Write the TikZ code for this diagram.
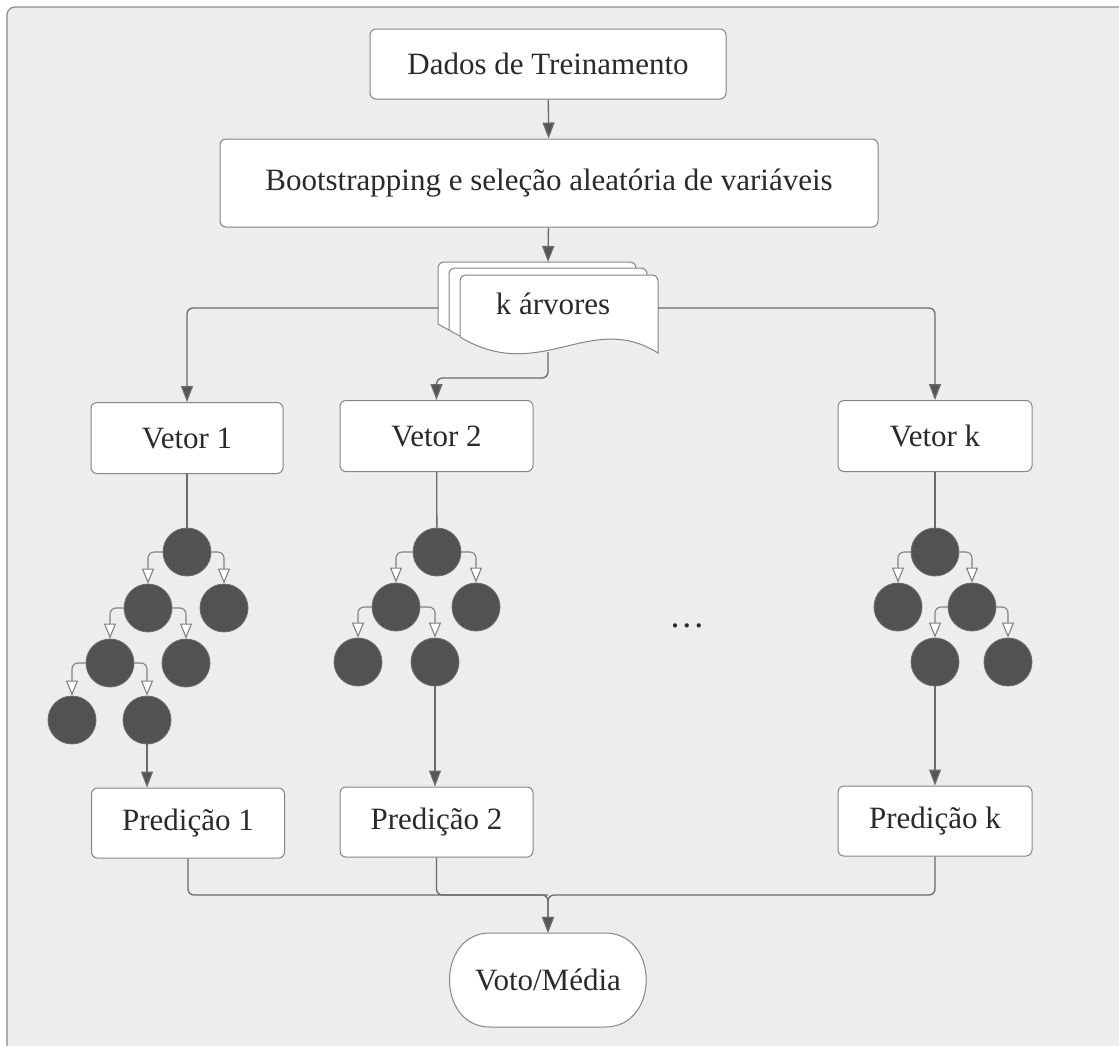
\documentclass[tikz,border=0pt]{standalone}
\usepackage{fontspec}
\setmainfont{Liberation Serif}
\usetikzlibrary{arrows.meta,calc}
\definecolor{panelbg}{HTML}{EDEDED}
\definecolor{panelline}{HTML}{8A8A8A}
\definecolor{boxline}{HTML}{858585}
\definecolor{linegray}{HTML}{6A6A6A}
\definecolor{tipgray}{HTML}{555555}
\definecolor{nodegray}{HTML}{525252}
\definecolor{txtgray}{HTML}{2A2A2A}
\tikzset{
  box/.style={draw=boxline, fill=white, line width=1pt, rounded corners=6pt,
    font=\fontsize{31}{36}\selectfont, text=txtgray, inner sep=0pt},
  lbl/.style={font=\fontsize{31}{36}\selectfont, text=txtgray, inner sep=0pt},
  conn/.style={draw=linegray, line width=1.3pt, rounded corners=6pt,
    -{Triangle[length=16pt,width=12pt,fill=tipgray]}},
  plain/.style={draw=linegray, line width=1.3pt, rounded corners=6pt},
  tarrow/.style={draw=linegray!85, line width=1.1pt, rounded corners=6pt,
    -{Triangle[length=15pt,width=12pt,fill=white]}},
  leaf/.style={circle, fill=nodegray, draw=nodegray!85!white, line width=0.8pt,
    minimum size=48pt, inner sep=0pt},
  sheet/.style={draw=boxline, fill=white, line width=1pt}
}
\begin{document}
\begin{tikzpicture}[x=1pt,y=-1pt]
\useasboundingbox (0,0) rectangle (1119,1045);
\fill[white] (0,0) rectangle (1119,1045);
\draw[draw=panelline, fill=panelbg, line width=1.2pt, rounded corners=8pt] (7,7) rectangle (1135,1065);

% top boxes
\node[box, minimum width=356pt, minimum height=70pt] (dados) at (548,64) {Dados de Treinamento};
\node[box, minimum width=658pt, minimum height=88pt] (boot) at (549,183) {Bootstrapping e seleção aleatória de variáveis};

% stacked document shape
\foreach \dx/\dy in {-22/-13, -11/-7, 0/0} {
  \begin{scope}[shift={(\dx,\dy)}]
    \draw[sheet] (460,337) -- (460,281) [rounded corners=6pt] -- (460,275) -- (658,275) [sharp corners] -- (658,353)
      .. controls (590,310) and (540,385) .. (460,337) -- cycle;
  \end{scope}
}
\node[lbl] (trees) at (553,304) {k árvores};
\coordinate (docT) at (548,262);
\coordinate (docL) at (438,308);
\coordinate (docR) at (658,308);
\coordinate (docB) at (548,352);

% vetor boxes
\node[box, minimum width=192pt, minimum height=71pt] (vet1) at (187,438) {Vetor 1};
\node[box, minimum width=193pt, minimum height=71pt] (vet2) at (436.5,436) {Vetor 2};
\node[box, minimum width=194pt, minimum height=71pt] (vetk) at (935,436) {Vetor k};

% prediction boxes
\node[box, minimum width=193pt, minimum height=70pt] (pred1) at (188,823) {Predição 1};
\node[box, minimum width=193pt, minimum height=70pt] (pred2) at (436.5,822) {Predição 2};
\node[box, minimum width=194pt, minimum height=70pt] (predk) at (935,821) {Predição k};

% vote shape
\draw[sheet] (490,933) -- (605,933) .. controls (660,933) and (660,1027) .. (605,1027)
  -- (490,1027) .. controls (436,1027) and (436,933) .. (490,933) -- cycle;
\node[lbl, minimum width=190pt, minimum height=94pt] (voto) at (548,980) {Voto/Média};

% tree 1
\node[leaf] (a1) at (187,552) {};
\node[leaf] (b1) at (148,608) {};
\node[leaf] (c1) at (224,608) {};
\node[leaf] (d1) at (110,663) {};
\node[leaf] (e1) at (186,663) {};
\node[leaf] (f1) at (72,720) {};
\node[leaf] (g1) at (147,720) {};
% tree 2
\node[leaf] (a2) at (437,552) {};
\node[leaf] (b2) at (396,607) {};
\node[leaf] (c2) at (476,607) {};
\node[leaf] (d2) at (358,662) {};
\node[leaf] (e2) at (435,662) {};
% tree k
\node[leaf] (ak) at (935,552) {};
\node[leaf] (bk) at (898,607) {};
\node[leaf] (ck) at (972,607) {};
\node[leaf] (dk) at (935,662) {};
\node[leaf] (ek) at (1008,662) {};

\node[font=\fontsize{36}{40}\selectfont, text=txtgray, inner sep=0pt] (dots) at (687,626) {.\kern3pt.\kern3pt.};

% main connectors
\draw[conn] (dados) -- (boot);
\draw[conn] (boot) -- (docT);
\draw[conn] (docL) -| (vet1);
\draw[conn] (docR) -| (vetk);
\draw[conn] (docB) -- ++(0,26) -| (vet2);

\draw[plain] (vet1) -- (a1);
\draw[plain] (vet2) -- (a2);
\draw[plain] (vetk) -- (ak);

% tree arrows
\draw[tarrow] (a1.west) -| (b1);
\draw[tarrow] (a1.east) -| (c1);
\draw[tarrow] (b1.west) -| (d1);
\draw[tarrow] (b1.east) -| (e1);
\draw[tarrow] (d1.west) -| (f1);
\draw[tarrow] (d1.east) -| (g1);
\draw[tarrow] (a2.west) -| (b2);
\draw[tarrow] (a2.east) -| (c2);
\draw[tarrow] (b2.west) -| (d2);
\draw[tarrow] (b2.east) -| (e2);
\draw[tarrow] (ak.west) -| (bk);
\draw[tarrow] (ak.east) -| (ck);
\draw[tarrow] (ck.west) -| (dk);
\draw[tarrow] (ck.east) -| (ek);

% leaves to predictions
\draw[conn] (g1) -- (g1 |- pred1.north);
\draw[conn] (e2) -- (e2 |- pred2.north);
\draw[conn] (dk) -- (dk |- predk.north);

% bottom merge
\coordinate (join) at (548,895);
\draw[conn] (pred1) |- (join) -- (voto);
\draw[conn] (predk) |- (join) -- (voto);
\draw[plain] (pred2) |- (join);
\end{tikzpicture}
\end{document}
